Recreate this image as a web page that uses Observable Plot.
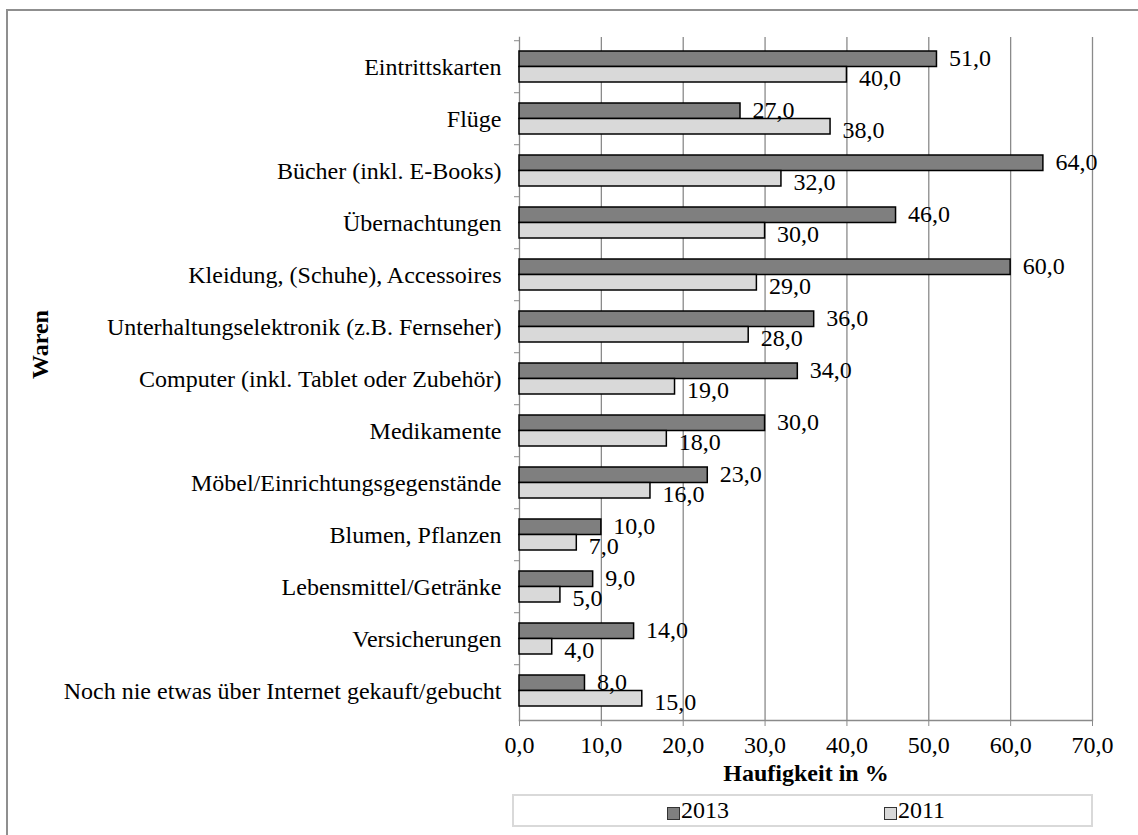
<!DOCTYPE html>
<html>
<head>
<meta charset="utf-8">
<script src="https://cdn.jsdelivr.net/npm/d3@7"></script>
<script src="https://cdn.jsdelivr.net/npm/@observablehq/plot@0.6"></script>
<style>
  body { margin: 0; background: #fff; }
  #wrap { position: relative; width: 1138px; height: 835px; overflow: hidden; font-family: "Liberation Serif", "Times New Roman", serif; }
  #border { position: absolute; left: 6px; top: 9px; right: -10px; bottom: -10px; border-left: 2px solid #8f8f8f; border-top: 2px solid #8f8f8f; }
  #chart { position: absolute; left: 0; top: 0; }
  #chart svg, #chart svg text, #chart svg g { font-family: "Liberation Serif", "Times New Roman", serif !important; }
  #legend { position: absolute; left: 512px; top: 794px; width: 577px; height: 29px; border: 2px solid #d9d9d9; background: #fff; }
  #legend .sw { position: absolute; top: 11px; width: 11px; height: 11px; border: 1px solid #333; }
  #legend .lt { position: absolute; top: 0px; font-size: 24px; line-height: 29px; color: #000; }
</style>
</head>
<body>
<div id="wrap">
  <div id="border"></div>
  <div id="chart"></div>
  <div id="legend"></div>
</div>
<script>
const categories = [
  "Eintrittskarten",
  "Flüge",
  "Bücher (inkl. E-Books)",
  "Übernachtungen",
  "Kleidung, (Schuhe), Accessoires",
  "Unterhaltungselektronik (z.B. Fernseher)",
  "Computer (inkl. Tablet oder Zubehör)",
  "Medikamente",
  "Möbel/Einrichtungsgegenstände",
  "Blumen, Pflanzen",
  "Lebensmittel/Getränke",
  "Versicherungen",
  "Noch nie etwas über Internet gekauft/gebucht"
];
const values2013 = [51, 27, 64, 46, 60, 36, 34, 30, 23, 10, 9, 14, 8];
const values2011 = [40, 38, 32, 30, 29, 28, 19, 18, 16, 7, 5, 4, 15];
const years = ["2013", "2011"];
const yearColors = ["#7f7f7f", "#d9d9d9"];
const xTicks = [0, 10, 20, 30, 40, 50, 60, 70];
const xTickLabels = ["0,0", "10,0", "20,0", "30,0", "40,0", "50,0", "60,0", "70,0"];
const xTitle = "Haufigkeit in %";
const yTitle = "Waren";

const FONT = "'Liberation Serif', 'Times New Roman', serif";
const fmt = v => v.toFixed(1).replace(".", ",");
const rows2013 = categories.map((c, i) => ({category: c, year: years[0], value: values2013[i]}));
const rows2011 = categories.map((c, i) => ({category: c, year: years[1], value: values2011[i]}));

const W = 1138, H = 790, mT = 37, mB = 70, mL = 519, mR = 46;
const pad = 0.41;
const step = (H - mT - mB) / categories.length;
const half = step * (1 - pad) / 2;

const chart = Plot.plot({
  width: W, height: H,
  marginTop: mT, marginBottom: mB, marginLeft: mL, marginRight: mR,
  style: {fontFamily: FONT, fontSize: "24px", color: "#000", background: "transparent"},
  x: {domain: [0, 70], axis: null, label: null},
  y: {domain: categories, paddingInner: pad, paddingOuter: pad / 2, axis: null, label: null},
  marks: [
    Plot.gridX(xTicks.slice(1), {stroke: "#8a8a8a", strokeOpacity: 1, strokeWidth: 1.3}),
    Plot.frame({anchor: "left", stroke: "#8a8a8a", strokeWidth: 1.3}),
    Plot.frame({anchor: "bottom", stroke: "#8a8a8a", strokeWidth: 1.3}),
    Plot.axisX({ticks: xTicks, tickFormat: d => xTickLabels[xTicks.indexOf(d)], tickSize: 6, tickPadding: 9, stroke: "#8a8a8a", fill: "#000", fontFamily: FONT, fontSize: 24, label: null}),
    Plot.axisY({tickSize: 0, tickPadding: 18, fill: "#000", fontFamily: FONT, fontSize: 24, label: null}),
    Plot.axisY({text: null, tickSize: 5, stroke: "#8a8a8a", dy: -step / 2, label: null}),
    Plot.barX(rows2013, {x: "value", y: "category", fill: yearColors[0], stroke: "#000", strokeWidth: 1.5, insetBottom: half}),
    Plot.barX(rows2011, {x: "value", y: "category", fill: yearColors[1], stroke: "#000", strokeWidth: 1.5, insetTop: half}),
    Plot.text(rows2013, {x: "value", y: "category", text: d => fmt(d.value), textAnchor: "start", dx: 12, dy: -half / 2 - 1, fill: "#000", fontFamily: FONT, fontSize: 24}),
    Plot.text(rows2011, {x: "value", y: "category", text: d => fmt(d.value), textAnchor: "start", dx: 12, dy: half / 2 + 4, fill: "#000", fontFamily: FONT, fontSize: 24}),
    Plot.text([xTitle], {frameAnchor: "bottom", dy: 60, fontWeight: "bold", fill: "#000", fontFamily: FONT, fontSize: 24}),
    Plot.text([yTitle], {frameAnchor: "left", dx: 40 - mL, rotate: -90, fontWeight: "bold", fill: "#000", fontFamily: FONT, fontSize: 24})
  ]
});
document.getElementById("chart").appendChild(chart);

const legend = document.getElementById("legend");
const swLeft = [153, 370];
years.forEach((y, i) => {
  const sw = document.createElement("span");
  sw.className = "sw";
  sw.style.left = swLeft[i] + "px";
  sw.style.background = yearColors[i];
  legend.appendChild(sw);
  const t = document.createElement("span");
  t.className = "lt";
  t.style.left = (swLeft[i] + 14) + "px";
  t.textContent = y;
  legend.appendChild(t);
});
</script>
</body>
</html>
